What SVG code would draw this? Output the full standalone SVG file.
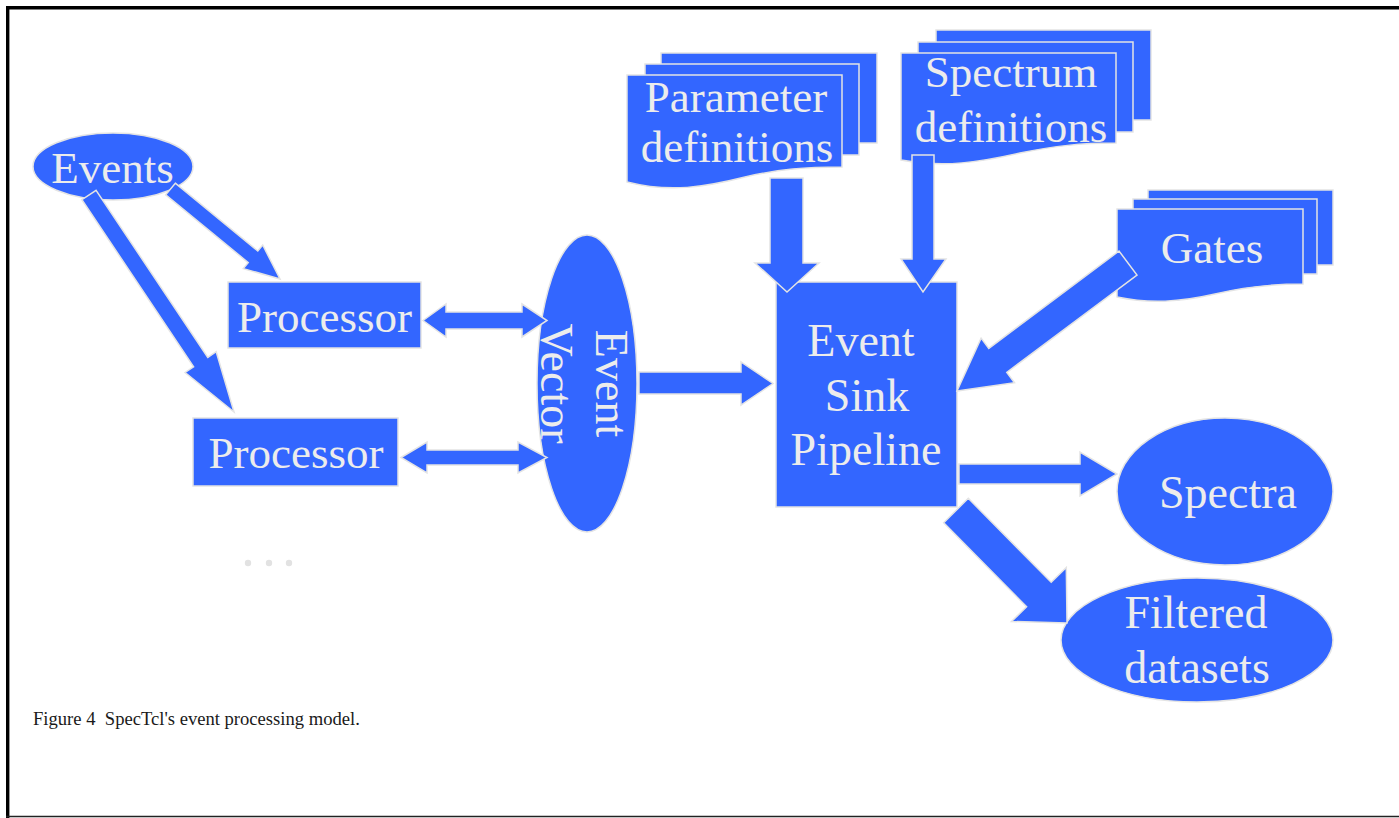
<svg xmlns="http://www.w3.org/2000/svg" width="1399" height="818" viewBox="0 0 1399 818">
<style>
.shape{fill:#3366ff;stroke:#e4e4e4;stroke-width:1.5}
.lbl{font-family:"Liberation Serif","Times New Roman",serif;font-size:45px;fill:#ececec;text-anchor:middle}
.big{font-size:46px}
.conn polygon{fill:#3366ff;stroke:#e4e4e4;stroke-width:1.5;stroke-linejoin:miter}
.cap{font-family:"Liberation Serif","Times New Roman",serif;font-size:18.6px;fill:#1a1a1a;white-space:pre}
.dot{fill:#e2e2e2}
</style>
<rect x="0" y="0" width="1399" height="818" fill="#ffffff"/>
<path d="M7.7,818 V7.7 H1399" fill="none" stroke="#000" stroke-width="3.4"/>
<line x1="6" y1="816.5" x2="1399" y2="816.5" stroke="#222" stroke-width="1.5"/>

<g id="events">
<ellipse class="shape" cx="113" cy="166.5" rx="80" ry="33.5"/>
<text class="lbl" x="112.5" y="183">Events</text>
</g>

<g id="processor1">
<rect class="shape" x="228" y="282" width="193" height="66"/>
<text class="lbl" x="324.5" y="332">Processor</text>
</g>

<g id="processor2">
<rect class="shape" x="193" y="418" width="205" height="68"/>
<text class="lbl" x="296" y="468">Processor</text>
</g>

<g id="ellipsis">
<circle class="dot" cx="248" cy="563" r="3.2"/>
<circle class="dot" cx="269" cy="563" r="3.2"/>
<circle class="dot" cx="289" cy="563" r="3.2"/>
</g>

<g id="event-vector">
<ellipse class="shape" cx="587" cy="383.5" rx="50" ry="148.5"/>
<g transform="translate(587,383.5) rotate(90)">
<text class="lbl big" x="0" y="-9">Event</text>
<text class="lbl big" x="0" y="46">Vector</text>
</g>
</g>

<g id="parameter-definitions">
<rect class="shape" x="661" y="53" width="216" height="90"/>
<rect class="shape" x="645" y="64" width="214" height="91"/>
<path class="shape" d="M627,75 H842 V167 C805,167 780,169 745,177 C705,187 670,193 627,182 Z"/>
<text class="lbl" x="736" y="112">Parameter</text>
<text class="lbl" x="737" y="162">definitions</text>
</g>

<g id="spectrum-definitions">
<rect class="shape" x="936" y="30" width="215" height="90"/>
<rect class="shape" x="918" y="42" width="215" height="90"/>
<path class="shape" d="M901,53 H1116 V143 C1080,143 1055,146 1020,153 C980,162 945,168 901,160 Z"/>
<text class="lbl" x="1011" y="87">Spectrum</text>
<text class="lbl" x="1011" y="142">definitions</text>
</g>

<g id="gates">
<rect class="shape" x="1148" y="190" width="185" height="75"/>
<rect class="shape" x="1133" y="199" width="184" height="75"/>
<path class="shape" d="M1117,209 H1303 V284 C1270,284 1245,287 1215,294 C1180,302 1150,304 1117,297 Z"/>
<text class="lbl" x="1212" y="263">Gates</text>
</g>

<g id="event-sink-pipeline">
<rect class="shape" x="776" y="282" width="181" height="225"/>
<text class="lbl big" x="861" y="356">Event</text>
<text class="lbl big" x="867" y="411">Sink</text>
<text class="lbl big" x="866" y="465">Pipeline</text>
</g>

<g id="spectra">
<ellipse class="shape" cx="1225" cy="491.5" rx="108" ry="73.5"/>
<text class="lbl big" x="1228" y="508">Spectra</text>
</g>

<g id="filtered-datasets">
<ellipse class="shape" cx="1197" cy="640" rx="136" ry="62"/>
<text class="lbl big" x="1196" y="628">Filtered</text>
<text class="lbl big" x="1197" y="683">datasets</text>
</g>

<g id="connectors" class="conn">
<polygon points="175.3,183.2 257.8,251 262.7,245 280,279 243.3,268.6 248.2,262.6 165.7,194.8"/>
<polygon points="96.1,190.3 207.8,357.4 216.2,351.7 234,412 185.1,372.5 193.6,366.8 81.9,199.7"/>
<polygon points="423,320.5 446,304 446,312 522,312 522,304 547,320.5 522,337 522,329 446,329 446,337"/>
<polygon points="401,457.5 427,442 427,450 518,450 518,442 547,457.5 518,473 518,465 427,465 427,473"/>
<polygon points="639,372 741,372 741,362 773,383.5 741,405 741,394 639,394"/>
<polygon points="770,178 803,178 803,263 819,263 787,292 755,263 770,263"/>
<polygon points="912,155 934,155 934,259 946,259 923,292 901,259 912,259"/>
<polygon points="1119,251 988.8,348.4 981.1,338.1 957,391 1014.5,382.7 1006.8,372.4 1137,275"/>
<polygon points="959,464 1080,464 1080,452 1117,474 1080,496 1080,484 959,484"/>
<polygon points="968.3,498.3 1051.2,582.3 1066.3,567.5 1067,623 1011.5,621.5 1026.6,606.7 943.7,522.7"/>
</g>

<text class="cap" x="33" y="725">Figure 4  SpecTcl's event processing model.</text>
</svg>
